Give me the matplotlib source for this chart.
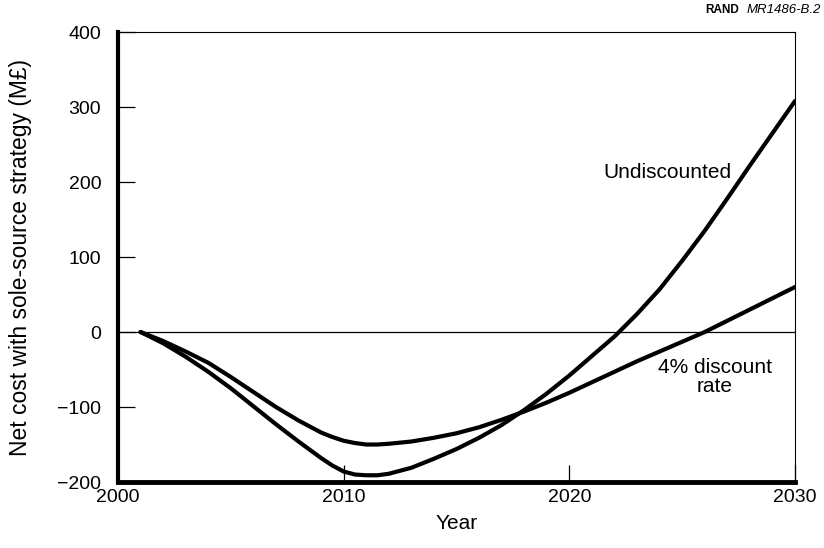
import numpy as np
import matplotlib.pyplot as plt

plt.rcParams['font.family'] = ['Liberation Sans', 'DejaVu Sans']

# net cost of sole-source strategy, M pounds (half-year steps round the trough)
years = [2001, 2002, 2003, 2004, 2005, 2006, 2007, 2008, 2008.5, 2009, 2009.5,
         2010, 2010.5, 2011, 2011.5, 2012, 2013, 2014, 2015, 2016, 2017, 2018,
         2019, 2020, 2021, 2022, 2023, 2024, 2025, 2026, 2027, 2028, 2029, 2030]
undiscounted = [0, -15, -33, -53, -75, -99, -123, -146, -157, -168, -178,
                -186, -190, -191, -191, -189, -181, -169, -156, -141, -124, -104,
                -82, -58, -32, -6, 24, 57, 95, 135, 178, 222, 265, 308]
discounted = [0, -12, -26, -41, -60, -80, -100, -118, -126, -134, -140,
              -145, -148, -150, -150, -149, -146, -141, -135, -127, -117, -106,
              -94, -81, -67, -53, -39, -26, -13, 0, 15, 30, 45, 60]

xticks = [2000, 2010, 2020, 2030]
yticks = [-200, -100, 0, 100, 200, 300, 400]

fig = plt.figure(figsize=(8.24, 5.48), dpi=100)
ax = fig.add_axes([0.1432, 0.1204, 0.8216, 0.8212])

ax.axhline(0, color='black', lw=0.9)
ax.plot(years, undiscounted, color='black', lw=3.0, solid_capstyle='round',
        solid_joinstyle='round')
ax.plot(years, discounted, color='black', lw=3.0, solid_capstyle='round',
        solid_joinstyle='round')

ax.set_xlim(2000, 2030)
ax.set_ylim(-200, 400)
ax.set_xticks(xticks)
ax.set_yticks(yticks)
ax.tick_params(axis='x', direction='in', length=12, width=0.9, pad=5, labelsize=14)
ax.tick_params(axis='y', direction='in', length=12, width=0.9, pad=12, labelsize=14)
ax.set_yticklabels(['\u2212200', '\u2212100', '0', '100', '200', '300', '400'])

ax.spines['left'].set_linewidth(3.0)
ax.spines['bottom'].set_linewidth(3.5)
ax.spines['top'].set_linewidth(0.8)
ax.spines['right'].set_linewidth(0.8)

ax.set_xlabel('Year', fontsize=15, labelpad=6)
ax.set_ylabel('Net cost with sole-source strategy (M\u00a3)', fontsize=16.5, labelpad=18)

ax.text(2021.5, 213, 'Undiscounted', fontsize=15, ha='left', va='center')
ax.text(2026.45, -60, '4% discount\nrate', fontsize=15, ha='center', va='center',
        linespacing=1.0)

fig.text(0.856, 0.982, 'RAND', fontsize=8.5, fontweight='bold', ha='left', va='center')
fig.text(0.996, 0.982, 'MR1486-B.2', fontsize=9.5, style='italic', ha='right', va='center')

fig.savefig('out.png', dpi=100)
